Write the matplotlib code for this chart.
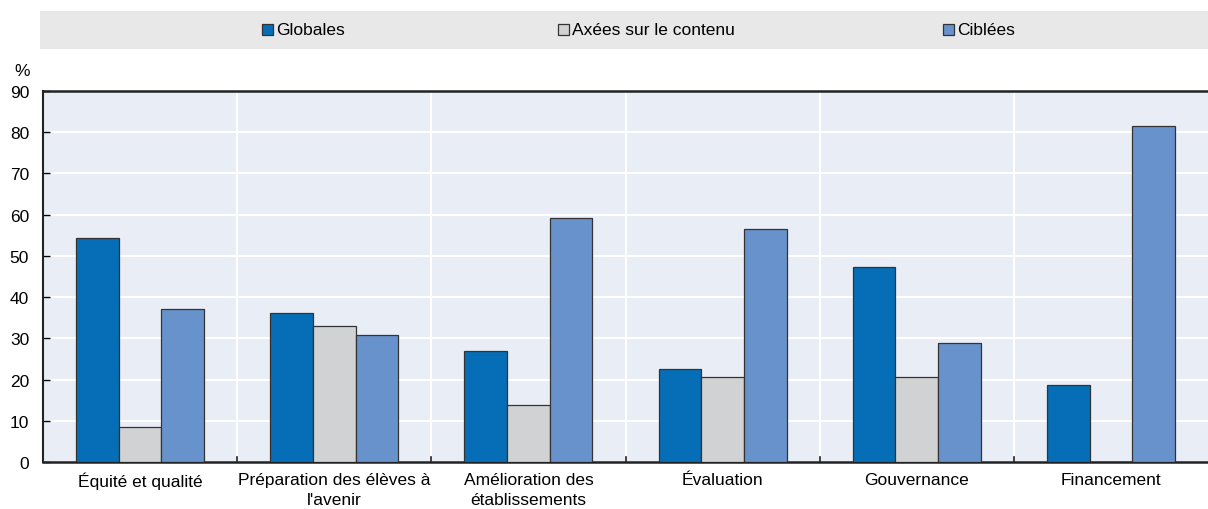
import matplotlib
matplotlib.use("Agg")
import matplotlib.pyplot as plt
from matplotlib.patches import Rectangle
import numpy as np

categories = ["Équité et qualité", "Préparation des élèves à\nl'avenir",
              "Amélioration des\nétablissements", "Évaluation", "Gouvernance", "Financement"]
series_names = ["Globales", "Axées sur le contenu", "Ciblées"]
globales = [54.3, 36.2, 26.9, 22.5, 47.4, 18.7]
axees = [8.5, 33.1, 13.8, 20.6, 20.6, 0.0]
ciblees = [37.0, 30.8, 59.3, 56.6, 28.9, 81.4]
yticks = [0, 10, 20, 30, 40, 50, 60, 70, 80, 90]

colors = ["#066EB7", "#D1D2D4", "#6892CC"]
edge = "#333333"

plt.rcParams['font.family'] = ['Liberation Sans Narrow', 'Liberation Sans', 'DejaVu Sans']

fig = plt.figure(figsize=(12.08, 5.10), dpi=100)
ax = fig.add_axes([43/1208, (510-463)/510, 1 - 43/1208, (463-92)/510])
ax.set_facecolor("#E9EDF5")

x = np.arange(len(categories))
w = 0.22
for i, (vals, c) in enumerate(zip([globales, axees, ciblees], colors)):
    ax.bar(x + (i - 1) * w, vals, width=w, color=c, edgecolor=edge, linewidth=0.9, zorder=3)

ax.set_xlim(-0.5, len(categories) - 0.5)
ax.set_ylim(0, 90)
ax.set_yticks(yticks)
ax.set_yticklabels([str(v) for v in yticks], fontsize=12.5)
ax.set_xticks(x)
ax.set_xticklabels(categories, fontsize=12.5, linespacing=1.45)
ax.tick_params(axis='x', length=0, pad=7)
ax.tick_params(axis='y', direction='in', length=5, width=1, pad=10)

# horizontal gridlines
for v in yticks[1:]:
    ax.axhline(v, color='white', linewidth=1.5, zorder=1)
# vertical category separators
for b in np.arange(0.5, len(categories) - 0.5, 1.0):
    ax.axvline(b, color='white', linewidth=1.5, zorder=1)
    ax.plot([b, b], [0, 1.2], color='#222222', linewidth=1.2, zorder=4, clip_on=False)

for s in ['left', 'bottom', 'top']:
    ax.spines[s].set_color('#222222')
    ax.spines[s].set_linewidth(1.8)
ax.spines['right'].set_visible(False)
ax.spines['left'].set_linewidth(1.5)

fig.text(22/1208, 1 - 72/510, "%", fontsize=12.5, ha='center', va='center')

# legend band
band = Rectangle((40/1208, 1 - 50/510), 1 - 40/1208, 38/510, transform=fig.transFigure,
                 facecolor="#E8E8E9", edgecolor='none', zorder=0)
fig.patches.append(band)
leg_x = [262, 558, 943]
for name, c, lx in zip(series_names, colors, leg_x):
    sq = Rectangle((lx/1208, 1 - 36/510), 11/1208, 11/510, transform=fig.transFigure,
                   facecolor=c, edgecolor=edge, linewidth=0.9)
    fig.patches.append(sq)
    fig.text((lx + 14)/1208, 1 - 30.5/510, name, fontsize=12.5, ha='left', va='center')

fig.savefig("out.png", dpi=100)
